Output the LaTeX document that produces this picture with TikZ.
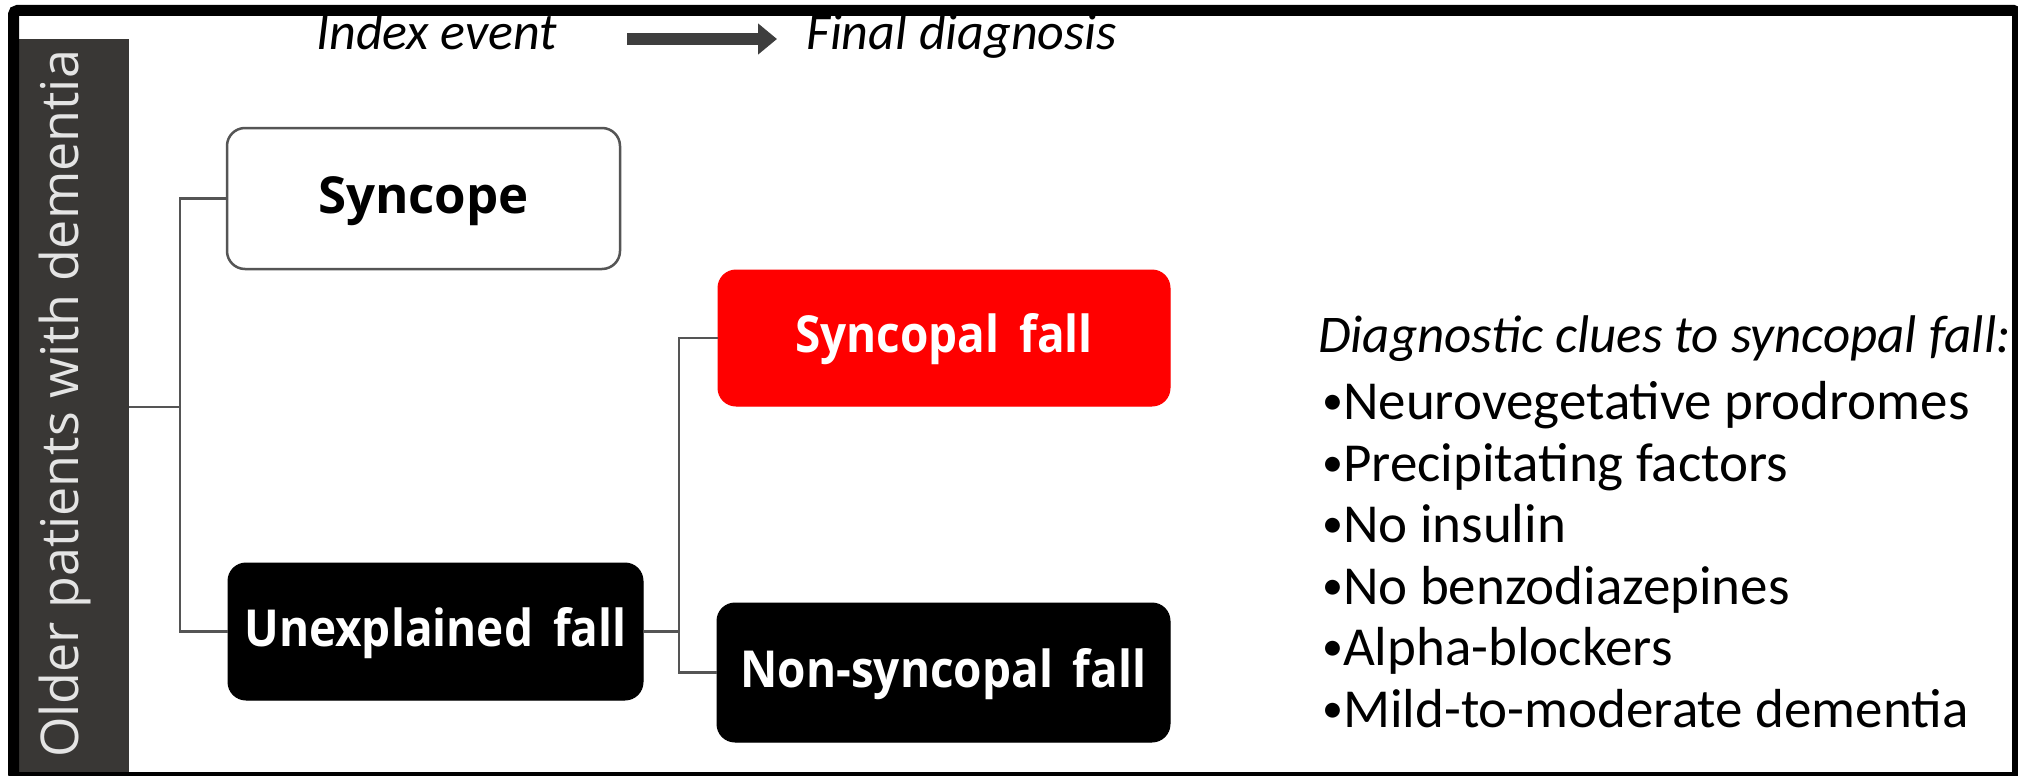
\documentclass[tikz,border=0pt]{standalone}
\usepackage{fontspec}
\setmainfont{Carlito}
\newfontfamily\boxfont{Open Sans}[FakeStretch=0.9]
\newfontfamily\synfont{Open Sans}
\newfontfamily\sidefont{Open Sans}
\usetikzlibrary{arrows.meta}
\definecolor{sidegray}{HTML}{393735}
\definecolor{linegray}{HTML}{555555}
\definecolor{arrgray}{HTML}{3E3E3E}
\definecolor{boxred}{HTML}{FF0000}
\definecolor{sidetext}{HTML}{E4E4E4}
\newcommand{\bul}{\raisebox{5pt}{\fontsize{42}{42}\selectfont •}}
\newcommand{\wsp}{\hspace{20pt}}
\begin{document}
\begin{tikzpicture}[x=1pt,y=-1pt,
  box/.style={rounded corners=18pt, inner sep=0pt, text height=36pt, text depth=7pt, font=\boxfont\bfseries\fontsize{51}{60}\selectfont},
  whitebox/.style={box, fill=white, draw=linegray, line width=2.5pt, text=black, font=\synfont\bfseries\fontsize{51}{60}\selectfont},
  blackbox/.style={box, fill=black, draw=black, line width=1pt, text=white},
  redbox/.style={box, fill=boxred, draw=boxred, line width=1pt, text=white},
  conn/.style={draw=linegray, line width=2.5pt},
  hdr/.style={inner sep=0pt, font=\itshape\fontsize{52}{60}\selectfont},
  clue/.style={inner sep=0pt, font=\fontsize{55}{64}\selectfont},
  bigarrow/.style={draw=arrgray, line width=12pt, -{Triangle[length=19pt, width=30pt]}}
]
\useasboundingbox (0,0) rectangle (2018,776);
\fill[white] (0,0) rectangle (2018,776);

% sidebar
\node[fill=sidegray, inner sep=0pt, minimum width=110pt, minimum height=736pt, anchor=north west] (side) at (19,39) {};
\node[rotate=90, anchor=base, inner sep=0pt, text=sidetext, font=\sidefont\fontsize{52}{60}\selectfont] (sidelbl) at (78,404) {Older patients with dementia};

% header
\node[hdr, anchor=base west] (idx) at (316,50) {Index event};
\node[hdr, anchor=base west] (fin) at (806,50) {Final diagnosis};
\draw[bigarrow] ([shift={(70,-11)}]idx.base east) -- ([shift={(-29,-11)}]fin.base west);

% boxes
\node[whitebox, minimum width=393pt, minimum height=141pt] (syn) at (423.5,198.5) {Syncope};
\node[blackbox, minimum width=415pt, minimum height=137pt] (unx) at (435.5,631.5) {Unexplained\wsp fall};
\node[redbox, minimum width=452pt, minimum height=136pt] (sf) at (944,338) {Syncopal\wsp fall};
\node[blackbox, minimum width=453pt, minimum height=139pt] (nsf) at (943.5,672.5) {Non-syncopal\wsp fall};

% connectors
\coordinate (b1) at (180,0);
\coordinate (b2) at (679,0);
\draw[conn] (side.east) -- (side.east -| b1);
\draw[conn] (syn.west) -- (syn.west -| b1) -- (unx.west -| b1) -- (unx.west);
\draw[conn] (unx.east) -- (unx.east -| b2);
\draw[conn] (sf.west) -- (sf.west -| b2) -- (nsf.west -| b2) -- (nsf.west);

% clues
\node[clue, anchor=base west, font=\itshape\fontsize{53}{64}\selectfont] (c0) at (1318,352) {Diagnostic clues to syncopal fall:};
\node[clue, anchor=base west] (c1) at (1322,419) {\bul Neurovegetative prodromes};
\node[clue, anchor=base west] (c2) at (1322,481) {\bul Precipitating factors};
\node[clue, anchor=base west] (c3) at (1322,542) {\bul No insulin};
\node[clue, anchor=base west] (c4) at (1322,604) {\bul No benzodiazepines};
\node[clue, anchor=base west] (c5) at (1322,665) {\bul Alpha-blockers};
\node[clue, anchor=base west] (c6) at (1322,727) {\bul Mild-to-moderate dementia};

% frame
\draw[line width=11pt, rounded corners=4pt] (13.5,10.5) rectangle (2017.5,777.5);
\end{tikzpicture}
\end{document}
